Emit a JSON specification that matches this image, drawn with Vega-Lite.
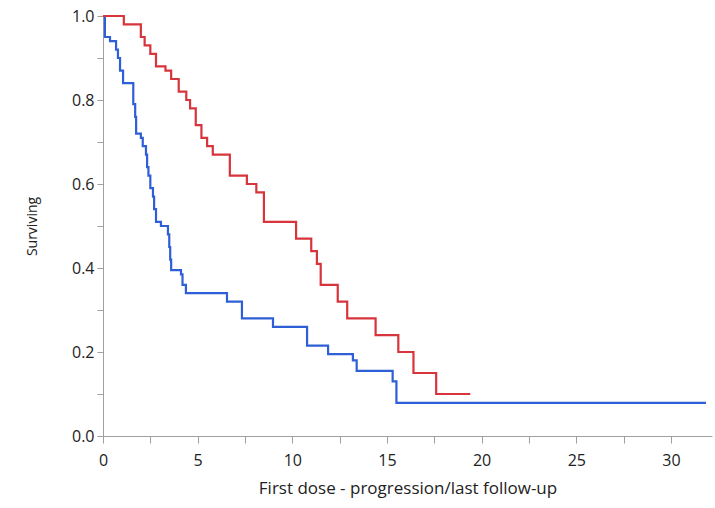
{
  "$schema": "https://vega.github.io/schema/vega-lite/v6.json",
  "width": 609,
  "height": 420,
  "autosize": {"type": "none"},
  "padding": {"left": 103, "top": 16, "right": 3, "bottom": 72},
  "background": "white",
  "config": {
    "view": {"stroke": null},
    "font": "Open Sans",
    "axis": {
      "domainColor": "#a0a0a0",
      "tickColor": "#a0a0a0",
      "labelColor": "#222222",
      "titleColor": "#222222",
      "labelFont": "Open Sans",
      "titleFont": "Open Sans",
      "labelFontSize": 16,
      "titleFontSize": 14,
      "titleFontWeight": "normal",
      "grid": false
    }
  },
  "datasets": {
    "km": [
      {"group": "B", "t": 0, "s": 1.0},
      {"group": "B", "t": 0.1, "s": 0.95},
      {"group": "B", "t": 0.37, "s": 0.94},
      {"group": "B", "t": 0.69, "s": 0.92},
      {"group": "B", "t": 0.79, "s": 0.9},
      {"group": "B", "t": 0.9, "s": 0.87},
      {"group": "B", "t": 1.06, "s": 0.84},
      {"group": "B", "t": 1.6, "s": 0.79},
      {"group": "B", "t": 1.7, "s": 0.76},
      {"group": "B", "t": 1.75, "s": 0.72},
      {"group": "B", "t": 2.0, "s": 0.71},
      {"group": "B", "t": 2.1, "s": 0.69},
      {"group": "B", "t": 2.27, "s": 0.67},
      {"group": "B", "t": 2.33, "s": 0.64},
      {"group": "B", "t": 2.4, "s": 0.62},
      {"group": "B", "t": 2.5, "s": 0.59},
      {"group": "B", "t": 2.64, "s": 0.57},
      {"group": "B", "t": 2.7, "s": 0.54},
      {"group": "B", "t": 2.8, "s": 0.51},
      {"group": "B", "t": 3.06, "s": 0.5},
      {"group": "B", "t": 3.43, "s": 0.48},
      {"group": "B", "t": 3.5, "s": 0.45},
      {"group": "B", "t": 3.55, "s": 0.42},
      {"group": "B", "t": 3.6, "s": 0.395},
      {"group": "B", "t": 4.12, "s": 0.385},
      {"group": "B", "t": 4.2, "s": 0.36},
      {"group": "B", "t": 4.38, "s": 0.34},
      {"group": "B", "t": 6.55, "s": 0.32},
      {"group": "B", "t": 7.34, "s": 0.28},
      {"group": "B", "t": 8.98, "s": 0.26},
      {"group": "B", "t": 10.78, "s": 0.215},
      {"group": "B", "t": 11.89, "s": 0.195},
      {"group": "B", "t": 13.2, "s": 0.18},
      {"group": "B", "t": 13.4, "s": 0.155},
      {"group": "B", "t": 15.3, "s": 0.13},
      {"group": "B", "t": 15.5, "s": 0.079},
      {"group": "B", "t": 31.85, "s": 0.079},
      {"group": "R", "t": 0, "s": 1.0},
      {"group": "R", "t": 1.1, "s": 0.98},
      {"group": "R", "t": 2.0, "s": 0.95},
      {"group": "R", "t": 2.2, "s": 0.93},
      {"group": "R", "t": 2.5, "s": 0.91},
      {"group": "R", "t": 2.8, "s": 0.88},
      {"group": "R", "t": 3.3, "s": 0.87},
      {"group": "R", "t": 3.6, "s": 0.85},
      {"group": "R", "t": 4.0, "s": 0.82},
      {"group": "R", "t": 4.4, "s": 0.8},
      {"group": "R", "t": 4.6, "s": 0.78},
      {"group": "R", "t": 4.9, "s": 0.74},
      {"group": "R", "t": 5.2, "s": 0.71},
      {"group": "R", "t": 5.5, "s": 0.69},
      {"group": "R", "t": 5.8, "s": 0.67},
      {"group": "R", "t": 6.7, "s": 0.62},
      {"group": "R", "t": 7.6, "s": 0.6},
      {"group": "R", "t": 8.1, "s": 0.58},
      {"group": "R", "t": 8.5, "s": 0.51},
      {"group": "R", "t": 10.2, "s": 0.47},
      {"group": "R", "t": 11.0, "s": 0.44},
      {"group": "R", "t": 11.3, "s": 0.41},
      {"group": "R", "t": 11.5, "s": 0.36},
      {"group": "R", "t": 12.4, "s": 0.32},
      {"group": "R", "t": 12.9, "s": 0.28},
      {"group": "R", "t": 14.4, "s": 0.24},
      {"group": "R", "t": 15.6, "s": 0.2},
      {"group": "R", "t": 16.4, "s": 0.15},
      {"group": "R", "t": 17.6, "s": 0.1},
      {"group": "R", "t": 19.4, "s": 0.1}
    ]
  },
  "layer": [
    {
      "mark": {"type": "rule", "color": "#b0b0b0", "strokeWidth": 1.5},
      "encoding": {
        "y": {"datum": 1, "type": "quantitative"}
      }
    },
    {
      "data": {"name": "km"},
      "mark": {"type": "line", "interpolate": "step-after", "strokeWidth": 2.2},
      "encoding": {
        "x": {
          "field": "t",
          "type": "quantitative",
          "scale": {"domain": [0, 32.17], "nice": false, "zero": false},
          "axis": {
            "title": "First dose - progression/last follow-up",
            "titleFontSize": 17,
            "values": [0, 2.5, 5, 7.5, 10, 12.5, 15, 17.5, 20, 22.5, 25, 27.5, 30],
            "labelExpr": "datum.value % 5 == 0 ? format(datum.value, 'd') : ''",
            "tickSize": 7,
            "labelPadding": 9,
            "titlePadding": 12,
            "labelFlush": false,
            "encoding": {
              "ticks": {"update": {"y2": {"signal": "datum.value % 5 == 0 ? 7 : 4"}}}
            }
          }
        },
        "y": {
          "field": "s",
          "type": "quantitative",
          "scale": {"domain": [0, 1], "nice": false},
          "axis": {
            "title": "Surviving",
            "values": [0, 0.1, 0.2, 0.3, 0.4, 0.5, 0.6, 0.7, 0.8, 0.9, 1.0],
            "labelExpr": "(round(datum.value * 10) % 2 == 0) ? format(datum.value, '.1f') : ''",
            "tickSize": 6,
            "labelPadding": 3,
            "titlePadding": 32,
            "labelFlush": false,
            "encoding": {
              "ticks": {"update": {"x2": {"signal": "round(datum.value * 10) % 2 == 0 ? -6 : -4"}}}
            }
          }
        },
        "color": {
          "field": "group",
          "type": "nominal",
          "scale": {"domain": ["B", "R"], "range": ["#2f5fd6", "#d8343c"]},
          "legend": null
        }
      }
    }
  ]
}
